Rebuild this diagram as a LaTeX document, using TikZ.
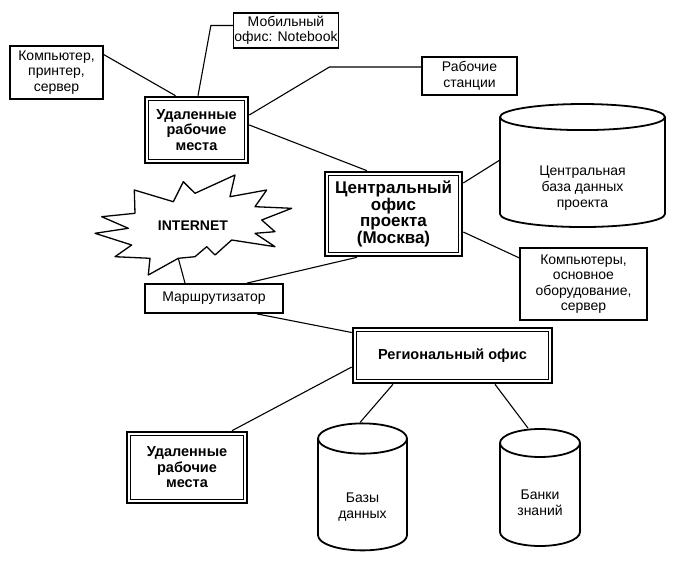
\documentclass[tikz,border=0pt]{standalone}
\usepackage{fontspec}
\setmainfont{Liberation Sans}
\usetikzlibrary{positioning,shapes.geometric}

\tikzset{
  box/.style={draw, line width=1.1pt, align=center, inner sep=1pt,
    font=\fontsize{14}{15.5}\selectfont},
  office/.style={draw, line width=2.6pt, align=center, inner sep=1pt,
    font=\bfseries\fontsize{14.5}{15.5}\selectfont,
    path picture={\draw[line width=0.9pt]
      ([shift={(3.6pt,3.6pt)}]path picture bounding box.south west) rectangle
      ([shift={(-3.6pt,-3.6pt)}]path picture bounding box.north east);}},
  store/.style={cylinder, shape border rotate=90, draw, line width=1.8pt, inner sep=1pt},
  storetext/.style={align=center, font=\fontsize{14}{16}\selectfont},
  link/.style={line width=1.1pt}
}

\begin{document}
\begin{tikzpicture}[node distance=2cm,on grid]
   \useasboundingbox (-393.5pt,-359pt) rectangle (288.5pt,214pt);

   \node[office,minimum width=137pt,minimum height=84pt,
         font=\bfseries\fontsize{17}{16.7}\selectfont] (central) {Центральный\\офис\\проекта\\(Москва)};
   \node[office,minimum width=103pt,minimum height=66pt] (remote1) [above left=84pt and 197pt of central] {Удаленные\\рабочие\\места};
   \node[box,minimum width=93pt,minimum height=53pt] (comp) [above left=57.5pt and 140pt of remote1] {Компьютер,\\принтер,\\сервер};
   \node[box,minimum width=104pt,minimum height=35pt] (mob) [above right=99.5pt and 89.5pt of remote1] {Мобильный\\офис: Notebook};
   \node[box,minimum width=95pt,minimum height=38pt] (ws) [above right=138pt and 76pt of central] {Рабочие\\станции};
   \node[store,text width=163pt,minimum height=123pt,aspect=0.158,
         label={[storetext,yshift=-15pt]center:Центральная\\база данных\\проекта}] (cdb) [above right=40.5pt and 189pt of central] {};
   \node[box,minimum width=127pt,minimum height=72pt] (pcs) [below right=70pt and 190pt of central] {Компьютеры,\\основное\\оборудование,\\сервер};
   \node[box,line width=1.8pt,minimum width=138pt,minimum height=29pt] (router) [below left=84.5pt and 179.5pt of central] {Маршрутизатор};
   \node[font=\bfseries\fontsize{14}{16}\selectfont] (inet) [above left=72.5pt and 21pt of router] {INTERNET};
   \node[office,minimum width=199pt,minimum height=55pt] (reg) [below right=141.5pt and 59pt of central] {Региональный офис};
   \node[office,minimum width=120pt,minimum height=71pt] (remote2) [below left=112pt and 265.5pt of reg] {Удаленные\\рабочие\\места};
   \node[store,text width=87pt,minimum height=127pt,aspect=0.34,
         label={[storetext,yshift=-11pt]center:Базы\\данных}] (db) [below left=141pt and 90pt of reg] {};
   \node[store,text width=78pt,minimum height=117pt,aspect=0.35,
         label={[storetext,yshift=-6pt]center:Банки\\знаний}] (kb) [below right=141pt and 87.5pt of reg] {};

   % starburst round INTERNET
   \draw[line width=1.3pt,line join=round,shift={(inet.center)}]
     (-58.7pt,36pt) -- (-19.7pt,24.3pt) -- (-9.7pt,44.3pt) -- (2pt,32.7pt)
     -- (42pt,51pt) -- (37pt,29.3pt) -- (73.7pt,36pt) -- (62pt,19.3pt)
     -- (98.7pt,17.7pt) -- (68.7pt,6pt) -- (82pt,-5.7pt) -- (62pt,-7.3pt)
     -- (82pt,-20.7pt) -- (38.7pt,-14pt) -- (22pt,-29pt) -- (13.7pt,-20.7pt)
     -- (2pt,-30.7pt) -- (-14.7pt,-32.3pt) -- (-44.7pt,-49pt) -- (-43pt,-32.3pt)
     -- (-78pt,-30.7pt) -- (-61.3pt,-19pt) -- (-98pt,-7.3pt) -- (-64.7pt,-2.3pt)
     -- (-91.3pt,9.3pt) -- (-58pt,12.7pt) -- cycle;
   \coordinate (inetfoot) at ([shift={(-14.7pt,-32.3pt)}]inet.center);

   \draw[link] ([yshift=-9pt]comp.north east) -- ([xshift=-21pt]remote1.north);
   \draw[link] ([yshift=5pt]mob.west) -- ++(-22pt,0) -- ([xshift=1.5pt]remote1.north);
   \draw[link] ([yshift=9pt]ws.west) -- ++(-92pt,0) -- ([yshift=15pt]remote1.east);
   \draw[link] ([yshift=5pt]remote1.east) -- ([xshift=-26.5pt]central.north);
   \draw[link] ([yshift=31pt]central.east) -- ([yshift=13pt]cdb.west);
   \draw[link] ([yshift=-18pt]central.east) -- ([yshift=26pt]pcs.west);
   \draw[link] ([xshift=-36.5pt]central.south) -- ([xshift=33pt]router.north);
   \draw[link] (inetfoot) -- ([xshift=-29pt]router.north);
   \draw[link] ([xshift=43pt]router.south) -- ([yshift=23pt]reg.west);
   \draw[link] ([yshift=-11.5pt]reg.west) -- ([xshift=45pt]remote2.north);
   \draw[link] ([xshift=-59.5pt]reg.south) -- ([xshift=-2.5pt]db.north);
   \draw[link] ([xshift=42.5pt]reg.south) -- ([xshift=-12pt]kb.north);
\end{tikzpicture}
\end{document}
